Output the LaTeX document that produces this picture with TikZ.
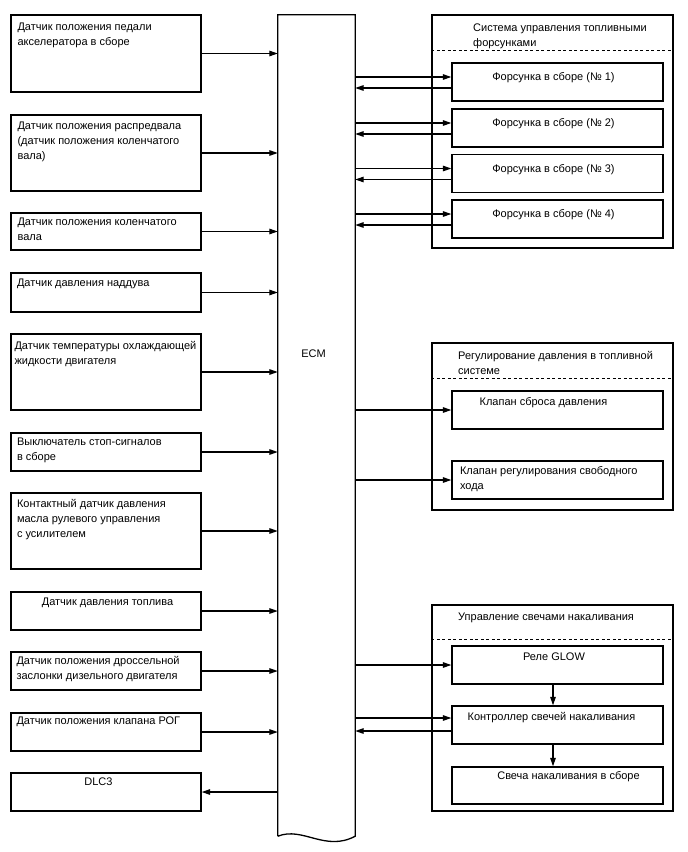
\documentclass[tikz,border=0pt]{standalone}
\usepackage{fontspec}
\setmainfont{Liberation Sans}
\usetikzlibrary{arrows.meta,calc,positioning}

\begin{document}
\begin{tikzpicture}[x=1pt, y=-1pt,
  box/.style={rectangle, draw=black, line width=1.3pt, minimum width=190pt, inner sep=0pt},
  ibox/.style={rectangle, draw=black, line width=1.3pt, minimum width=211pt, minimum height=38pt, inner sep=0pt},
  grp/.style={rectangle, draw=black, line width=1.3pt, minimum width=241pt, inner sep=0pt},
  txt/.style={anchor=north west, inner sep=0pt, align=left, font=\fontsize{11}{15}\selectfont},
  ctxt/.style={anchor=north, inner sep=0pt, align=center, font=\fontsize{11}{15}\selectfont},
  sep/.style={dash pattern=on 3pt off 2.5pt, line width=1.1pt},
  arr/.style={-{Triangle[length=8.5pt,width=5.5pt]}, line width=1.3pt}
]
  \useasboundingbox (0,0) rectangle (688,852);

  % ECM
  \node[rectangle, minimum width=77pt, minimum height=821pt, inner sep=0pt] (ecm) at (316.5,425.5) {};
  \draw[line width=1.3pt] (ecm.south west) -- (ecm.north west) -- (ecm.north east) -- (ecm.south east)
    .. controls ($(ecm.south east)+(-30,16)$) and ($(ecm.south west)+(25,-10)$) .. (ecm.south west);
  \node[txt, anchor=center] (ecmt) at (313.5,354) {ECM};

  % inputs
  \node[box, minimum height=77pt] (s1) at (106,53.5) {};
  \node[txt] (s1t) at ($(s1.north west)+(7,8)$) {Датчик положения педали\\акселератора в сборе};
  \node[box, minimum height=76pt] (s2) at (106,153) {};
  \node[txt] (s2t) at ($(s2.north west)+(7,7.5)$) {Датчик положения распредвала\\(датчик положения коленчатого\\вала)};
  \node[box, minimum height=37pt] (s3) at (106,231.5) {};
  \node[txt] (s3t) at ($(s3.north west)+(7,5.5)$) {Датчик положения коленчатого\\вала};
  \node[box, minimum height=39pt] (s4) at (106,292.5) {};
  \node[txt] (s4t) at ($(s4.north west)+(6.5,6.5)$) {Датчик давления наддува};
  \node[box, minimum height=76pt] (s5) at (106,372) {};
  \node[txt] (s5t) at ($(s5.north west)+(4,8)$) {Датчик температуры охлаждающей\\жидкости двигателя};
  \node[box, minimum height=38pt] (s6) at (106,452) {};
  \node[txt] (s6t) at ($(s6.north west)+(6.5,5.5)$) {Выключатель стоп-сигналов\\в сборе};
  \node[box, minimum height=76pt] (s7) at (106,531) {};
  \node[txt] (s7t) at ($(s7.north west)+(6.5,6.5)$) {Контактный датчик давления\\масла рулевого управления\\с усилителем};
  \node[box, minimum height=38pt] (s8) at (106,611) {};
  \node[ctxt] (s8t) at ($(s8.north)+(1.5,6.5)$) {Датчик давления топлива};
  \node[box, minimum height=38pt] (s9) at (106,671) {};
  \node[txt] (s9t) at ($(s9.north west)+(6,5)$) {Датчик положения дроссельной\\заслонки дизельного двигателя};
  \node[box, minimum height=38pt] (s10) at (106,732) {};
  \node[txt] (s10t) at ($(s10.north west)+(6,4)$) {Датчик положения клапана РОГ};
  \node[box, minimum height=38pt] (s11) at (106,792) {};
  \node[ctxt] (s11t) at ($(s11.north)+(-7.5,5)$) {DLC3};

  \draw[arr] (s1.east) -- (s1.east -| ecm.west);
  \draw[arr] (s2.east) -- (s2.east -| ecm.west);
  \draw[arr] (s3.east) -- (s3.east -| ecm.west);
  \draw[arr] (s4.east) -- (s4.east -| ecm.west);
  \draw[arr] (s5.east) -- (s5.east -| ecm.west);
  \draw[arr] (s6.east) -- (s6.east -| ecm.west);
  \draw[arr] (s7.east) -- (s7.east -| ecm.west);
  \draw[arr] (s8.east) -- (s8.east -| ecm.west);
  \draw[arr] (s9.east) -- (s9.east -| ecm.west);
  \draw[arr] (s10.east) -- (s10.east -| ecm.west);
  \draw[arr] (s11.east -| ecm.west) -- (s11.east);

  % injector control
  \node[grp, minimum height=233pt] (g1) at (552.5,131.5) {};
  \node[txt] (g1t) at (473,24) {Система управления топливными\\форсунками};
  \draw[sep] ($(g1.north west)+(0,36)$) -- ($(g1.north east)+(0,36)$);
  \node[ibox] (i1) at (557.5,82) {};
  \node[ctxt] (i1t) at ($(i1.north)+(-4,10)$) {Форсунка в сборе (№ 1)};
  \node[ibox] (i2) at (557.5,128) {};
  \node[ctxt] (i2t) at ($(i2.north)+(-4,10)$) {Форсунка в сборе (№ 2)};
  \node[ibox] (i3) at (557.5,173.5) {};
  \node[ctxt] (i3t) at ($(i3.north)+(-4,10)$) {Форсунка в сборе (№ 3)};
  \node[ibox] (i4) at (557.5,219) {};
  \node[ctxt] (i4t) at ($(i4.north)+(-4,10)$) {Форсунка в сборе (№ 4)};

  \coordinate (i1a) at ($(i1.west)+(0,-5)$);
  \coordinate (i1b) at ($(i1.west)+(0,6)$);
  \coordinate (i2a) at ($(i2.west)+(0,-5)$);
  \coordinate (i2b) at ($(i2.west)+(0,6)$);
  \coordinate (i3a) at ($(i3.west)+(0,-5)$);
  \coordinate (i3b) at ($(i3.west)+(0,6)$);
  \coordinate (i4a) at ($(i4.west)+(0,-5)$);
  \coordinate (i4b) at ($(i4.west)+(0,6)$);
  \draw[arr] (i1a -| ecm.east) -- (i1a);
  \draw[arr] (i1b) -- (i1b -| ecm.east);
  \draw[arr] (i2a -| ecm.east) -- (i2a);
  \draw[arr] (i2b) -- (i2b -| ecm.east);
  \draw[arr] (i3a -| ecm.east) -- (i3a);
  \draw[arr] (i3b) -- (i3b -| ecm.east);
  \draw[arr] (i4a -| ecm.east) -- (i4a);
  \draw[arr] (i4b) -- (i4b -| ecm.east);

  % fuel pressure control
  \node[grp, minimum height=167pt] (g2) at (552.5,426.5) {};
  \node[txt] (g2t) at (458,351) {Регулирование давления в топливной\\системе};
  \draw[sep] ($(g2.north west)+(0,36)$) -- ($(g2.north east)+(0,36)$);
  \node[ibox] (v1) at (557.5,410) {};
  \node[ctxt] (v1t) at ($(v1.north)+(-14,7)$) {Клапан сброса давления};
  \node[ibox] (v2) at (557.5,480) {};
  \node[txt] (v2t) at ($(v2.north west)+(8.5,6)$) {Клапан регулирования свободного\\хода};
  \draw[arr] (v1.west -| ecm.east) -- (v1.west);
  \draw[arr] (v2.west -| ecm.east) -- (v2.west);

  % glow plug control
  \node[grp, minimum height=206pt] (g3) at (552.5,708) {};
  \node[txt] (g3t) at (458,613) {Управление свечами накаливания};
  \draw[sep] ($(g3.north west)+(0,35)$) -- ($(g3.north east)+(0,35)$);
  \node[ibox] (r1) at (557.5,665) {};
  \node[ctxt] (r1t) at ($(r1.north)+(-3.5,7)$) {Реле GLOW};
  \node[ibox] (c1) at (557.5,725) {};
  \node[ctxt] (c1t) at ($(c1.north)+(-6,7)$) {Контроллер свечей накаливания};
  \node[ibox, minimum height=37pt] (p1) at (557.5,785.5) {};
  \node[ctxt] (p1t) at ($(p1.north)+(11,5)$) {Свеча накаливания в сборе};

  \coordinate (c1a) at ($(c1.west)+(0,-7)$);
  \coordinate (c1b) at ($(c1.west)+(0,6)$);
  \draw[arr] (r1.west -| ecm.east) -- (r1.west);
  \draw[arr] (c1a -| ecm.east) -- (c1a);
  \draw[arr] (c1b) -- (c1b -| ecm.east);
  \draw[arr] ([xshift=-4.5pt]r1.south) -- ([xshift=-4.5pt]c1.north);
  \draw[arr] ([xshift=-4.5pt]c1.south) -- ([xshift=-4.5pt]p1.north);
\end{tikzpicture}
\end{document}
